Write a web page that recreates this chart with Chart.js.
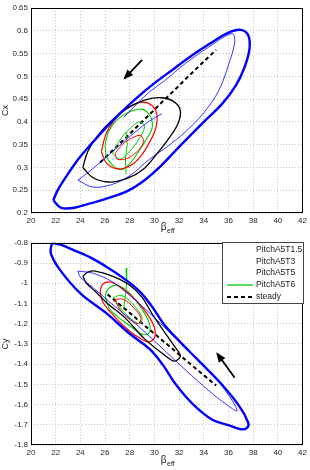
<!DOCTYPE html>
<html><head><meta charset="utf-8">
<script src="https://cdn.jsdelivr.net/npm/chart.js@4/dist/chart.umd.min.js"></script>
<style>
html,body{margin:0;padding:0;background:#fff;}
#wrap{position:relative;width:310px;height:470px;overflow:hidden;}
canvas{position:absolute;left:0;}
#c1{top:0}
#c2{top:235px}
</style></head><body>
<div id="wrap"><canvas id="c1" width="310" height="235"></canvas><canvas id="c2" width="310" height="235"></canvas></div>
<script>
// ---------- DATA ----------
const seriesNames = ['PitchA5T1.5','PitchA5T3','PitchA5T5','PitchA5T6','steady'];
const xTickVals = [20,22,24,26,28,30,32,34,36,38,40,42];
const cxTickVals = [0.2,0.25,0.3,0.35,0.4,0.45,0.5,0.55,0.6,0.65];
const cyTickVals = [-1.8,-1.7,-1.6,-1.5,-1.4,-1.3,-1.2,-1.1,-1,-0.9,-0.8];

// Top panel: Cx vs beta_eff  [beta, Cx]
const cxT15Outer = [[21.8,0.228],[22.4,0.212],[23.4,0.211],[24.8,0.221],[26.3,0.233],[27.8,0.248],[29.2,0.272],[30.4,0.300],[32.0,0.345],[34.0,0.400],[35.5,0.440],[36.6,0.480],[37.3,0.520],[37.7,0.560],[37.6,0.590],[37.0,0.602],[36.0,0.596],[34.5,0.572],[33.0,0.545],[31.5,0.515],[30.0,0.485],[28.5,0.451],[27.0,0.413],[25.5,0.370],[24.0,0.324],[23.0,0.286],[22.2,0.252],[21.8,0.228]];
const cxT15ThinA = [[23.8,0.272],[25.0,0.257],[26.5,0.262],[28.0,0.282],[29.6,0.318],[31.0,0.345],[32.5,0.378],[34.0,0.420],[35.2,0.468],[36.0,0.525],[36.5,0.575],[36.3,0.594],[34.5,0.566],[32.5,0.528],[30.8,0.490],[29.6,0.466],[28.6,0.440],[27.5,0.410]];
const cxT15ThinB = [[23.8,0.272],[25.0,0.297],[26.4,0.330],[28.0,0.368],[29.5,0.400],[30.6,0.418]];
const cxT3 = [[24.2,0.300],[24.6,0.335],[25.4,0.370],[26.5,0.402],[27.8,0.430],[29.2,0.448],[30.6,0.453],[31.6,0.444],[32.1,0.425],[31.9,0.396],[31.2,0.365],[30.2,0.330],[29.1,0.296],[27.8,0.276],[26.3,0.268],[25.0,0.278],[24.2,0.300]];
const cxT5Outer = [[25.7,0.335],[26.1,0.375],[26.8,0.405],[27.8,0.430],[28.9,0.443],[29.8,0.436],[30.2,0.415],[30.1,0.385],[29.6,0.355],[28.9,0.325],[28.1,0.305],[27.0,0.297],[26.1,0.310],[25.7,0.335]];
const cxT5Inner = [[26.8,0.330],[27.4,0.350],[28.2,0.365],[28.9,0.370],[29.1,0.355],[28.6,0.335],[27.8,0.320],[27.0,0.318],[26.8,0.330]];
const cxT6Outer = [[26.0,0.350],[26.3,0.380],[27.0,0.405],[28.0,0.422],[29.0,0.428],[29.7,0.410],[29.8,0.385],[29.3,0.360],[28.6,0.330],[27.9,0.305],[27.3,0.295],[26.6,0.305],[26.1,0.325],[26.0,0.350]];
const cxT6Inner = [[26.6,0.330],[27.2,0.360],[28.0,0.385],[28.8,0.400],[29.2,0.390],[28.8,0.365],[28.0,0.335],[27.2,0.318],[26.6,0.330]];
const cxT6Spike = [[27.7,0.378],[27.8,0.350],[27.65,0.320],[27.7,0.285]];
const cxSteady = [[25.6,0.311],[26.6,0.337],[27.6,0.363],[28.6,0.390],[29.6,0.416],[30.6,0.443],[31.6,0.469],[32.6,0.496],[33.6,0.522],[34.6,0.548],[35.0,0.558]];
const cxArrow = [[29.0,0.536],[27.6,0.496]];

// Bottom panel: Cy vs beta_eff  [beta, Cy]
const cyT15Outer = [[21.7,-0.800],[22.5,-0.812],[23.4,-0.835],[24.8,-0.872],[26.1,-0.918],[27.5,-0.975],[28.8,-1.040],[29.8,-1.115],[30.8,-1.205],[32.0,-1.285],[33.4,-1.372],[35.3,-1.490],[36.9,-1.610],[37.6,-1.690],[37.5,-1.715],[37.0,-1.722],[36.0,-1.702],[34.7,-1.675],[33.5,-1.620],[32.6,-1.565],[31.6,-1.490],[30.7,-1.405],[29.6,-1.325],[28.0,-1.250],[26.1,-1.148],[24.0,-1.050],[22.3,-0.930],[21.6,-0.850],[21.7,-0.800]];
const cyT15Thin = [[23.8,-0.940],[25.0,-0.950],[26.5,-0.990],[28.0,-1.060],[30.0,-1.170],[32.0,-1.290],[34.0,-1.410],[35.5,-1.510],[36.7,-1.630],[35.5,-1.585],[34.0,-1.510],[32.0,-1.400],[30.0,-1.285],[28.0,-1.175],[26.5,-1.100],[25.0,-1.020],[24.0,-0.970],[23.8,-0.940]];
const cyT3 = [[24.2,-0.965],[24.6,-0.945],[25.2,-0.940],[26.6,-0.965],[28.0,-1.010],[29.0,-1.070],[29.8,-1.150],[30.8,-1.240],[31.6,-1.310],[32.1,-1.360],[31.6,-1.385],[30.6,-1.345],[29.2,-1.275],[27.6,-1.170],[26.2,-1.100],[25.2,-1.040],[24.5,-1.000],[24.2,-0.965]];
const cyT5Outer = [[25.6,-1.040],[25.8,-1.005],[26.5,-0.995],[27.5,-1.030],[28.6,-1.090],[29.5,-1.160],[30.0,-1.220],[30.0,-1.270],[29.5,-1.290],[28.5,-1.260],[27.5,-1.210],[26.4,-1.140],[25.8,-1.090],[25.6,-1.040]];
const cyT5Inner = [[26.8,-1.080],[27.5,-1.080],[28.3,-1.120],[28.9,-1.170],[28.7,-1.200],[28.0,-1.180],[27.2,-1.130],[26.8,-1.080]];
const cyT6Outer = [[26.0,-1.060],[26.3,-1.025],[27.0,-1.010],[28.0,-1.050],[29.0,-1.130],[29.6,-1.200],[29.5,-1.250],[28.9,-1.250],[28.0,-1.210],[27.0,-1.165],[26.3,-1.120],[26.0,-1.060]];
const cyT6Inner = [[26.7,-1.070],[27.3,-1.060],[28.2,-1.100],[29.0,-1.170],[28.8,-1.200],[28.0,-1.170],[27.2,-1.120],[26.7,-1.070]];
const cyT6Spike = [[27.7,-0.925],[27.75,-1.000],[27.6,-1.080],[27.5,-1.130]];
const cySteady = [[26.2,-1.055],[27.2,-1.106],[28.2,-1.157],[29.2,-1.209],[30.2,-1.260],[31.2,-1.311],[32.2,-1.363],[33.2,-1.414],[34.2,-1.465],[35.0,-1.506]];
const cyArrow = [[36.5,-1.467],[35.1,-1.349]];

// ---------- STYLE ----------
const seriesColors = ['#0000ff','#000000','#ff0000','#00cc00','#000000'];
const legendShowSample = [false,false,false,true,true];
const FONT = '"Liberation Sans", Arial, sans-serif';

const toPts = a => a.map(p => ({x:p[0], y:p[1]}));
function ds(arr, color, width, opts) {
  return Object.assign({
    data: toPts(arr), borderColor: color, backgroundColor: color, borderWidth: width,
    showLine: true, pointRadius: 0, pointHoverRadius: 0, tension: 0.35, fill: false
  }, opts || {});
}

const boxPlugin = {
  id: 'axbox',
  afterDatasetsDraw(chart) {
    const ctx = chart.ctx, ca = chart.chartArea;
    ctx.save();
    ctx.strokeStyle = '#000'; ctx.lineWidth = 1; ctx.setLineDash([]);
    ctx.strokeRect(Math.round(ca.left)+0.5, Math.round(ca.top)+0.5, Math.round(ca.right-ca.left)-1, Math.round(ca.bottom-ca.top)-1);
    ctx.restore();
  }
};
const arrowPlugin = {
  id: 'arrowhead',
  afterDatasetsDraw(chart) {
    const ctx = chart.ctx;
    chart.data.datasets.forEach((d, i) => {
      if (!d.isArrow) return;
      const meta = chart.getDatasetMeta(i);
      const n = meta.data.length;
      const p1 = meta.data[n-2], p2 = meta.data[n-1];
      const ang = Math.atan2(p2.y - p1.y, p2.x - p1.x);
      const L = 8, W = 4;
      ctx.save();
      ctx.fillStyle = '#000';
      ctx.beginPath();
      ctx.moveTo(p2.x + Math.cos(ang)*2, p2.y + Math.sin(ang)*2);
      ctx.lineTo(p2.x - Math.cos(ang)*L - Math.sin(ang)*W, p2.y - Math.sin(ang)*L + Math.cos(ang)*W);
      ctx.lineTo(p2.x - Math.cos(ang)*L + Math.sin(ang)*W, p2.y - Math.sin(ang)*L - Math.cos(ang)*W);
      ctx.closePath(); ctx.fill();
      ctx.restore();
    });
  }
};
const xLabelPlugin = {
  id: 'xlab',
  afterDraw(chart, args, opts) {
    const ctx = chart.ctx, ca = chart.chartArea;
    const cx = (ca.left + ca.right)/2 - 6;
    const y = ca.bottom + opts.dy;
    ctx.save();
    ctx.fillStyle = '#222';
    ctx.textBaseline = 'alphabetic'; ctx.textAlign = 'left';
    ctx.font = '10px ' + FONT;
    ctx.fillText('β', cx, y);
    const w = ctx.measureText('β').width;
    ctx.font = '7px ' + FONT;
    ctx.fillText('eff', cx + w + 0.5, y + 3);
    ctx.restore();
  }
};
const legendPlugin = {
  id: 'boxLegend',
  afterDraw(chart, args, opts) {
    if (!opts.show) return;
    const ctx = chart.ctx, ca = chart.chartArea;
    const w = 82, h = 62;
    const x0 = Math.round(ca.right) - w + 1, y0 = Math.round(ca.top) - 1;
    ctx.save();
    ctx.fillStyle = '#fff'; ctx.fillRect(x0, y0, w, h);
    ctx.strokeStyle = '#444'; ctx.lineWidth = 1; ctx.strokeRect(x0+0.5, y0+0.5, w-1, h-1);
    ctx.font = '8.5px ' + FONT;
    ctx.textBaseline = 'middle'; ctx.textAlign = 'left';
    seriesNames.forEach((name, i) => {
      const y = y0 + 7.5 + i*11.8;
      if (legendShowSample[i]) {
        ctx.strokeStyle = seriesColors[i];
        ctx.lineWidth = i === 4 ? 2 : 1.3;
        ctx.setLineDash(i === 4 ? [4,3] : []);
        ctx.beginPath(); ctx.moveTo(x0+5, Math.round(y)); ctx.lineTo(x0+31, Math.round(y)); ctx.stroke();
        ctx.setLineDash([]);
      }
      ctx.fillStyle = '#222';
      ctx.fillText(name, x0+34, y);
    });
    ctx.restore();
  }
};

function makeOptions(yTicks, yMin, yMax, yTitle, pad, xHeight, showLegend, labelDy) {
  return {
    responsive: false, animation: false, devicePixelRatio: 1,
    layout: { padding: pad },
    plugins: { legend: { display: false }, tooltip: { enabled: false },
      xlab: { dy: labelDy }, boxLegend: { show: showLegend } },
    scales: {
      x: {
        type: 'linear', min: 20, max: 42,
        afterBuildTicks: s => { s.ticks = xTickVals.map(v => ({value: v})); },
        afterFit: s => { s.height = xHeight; },
        grid: { color: '#c4c4c4', lineWidth: 1, drawTicks: false },
        border: { display: false, dash: [1,2] },
        ticks: { autoSkip: false, maxRotation: 0, padding: 3, color: '#262626', font: { family: FONT, size: 8 }, callback: v => String(v) }
      },
      y: {
        type: 'linear', min: yMin, max: yMax,
        afterBuildTicks: s => { s.ticks = yTicks.map(v => ({value: v})); },
        afterFit: s => { s.width = 31; },
        grid: { color: '#c4c4c4', lineWidth: 1, drawTicks: false },
        border: { display: false, dash: [1,2] },
        title: { display: true, text: yTitle, color: '#222', font: { family: FONT, size: 9 }, padding: { top: 0, bottom: 0 } },
        ticks: { autoSkip: false, padding: 3, color: '#262626', font: { family: FONT, size: 8 }, callback: v => String(v) }
      }
    }
  };
}

const topDatasets = [
  ds(cxT15ThinA, seriesColors[0], 0.8),
  ds(cxT15ThinB, seriesColors[0], 0.8),
  ds(cxT15Outer, seriesColors[0], 2.4, {label: seriesNames[0]}),
  ds(cxT3, seriesColors[1], 1.3, {label: seriesNames[1]}),
  ds(cxT5Outer, seriesColors[2], 1.2, {label: seriesNames[2]}),
  ds(cxT5Inner, seriesColors[2], 1),
  ds(cxT6Outer, seriesColors[3], 1.1, {label: seriesNames[3]}),
  ds(cxT6Inner, seriesColors[3], 1),
  ds(cxT6Spike, seriesColors[3], 1, {tension: 0}),
  ds(cxSteady, seriesColors[4], 2, {label: seriesNames[4], borderDash: [4,3], tension: 0}),
  ds(cxArrow, '#000', 1.8, {tension: 0, isArrow: true})
];
const botDatasets = [
  ds(cyT15Thin, seriesColors[0], 0.8),
  ds(cyT15Outer, seriesColors[0], 2.4, {label: seriesNames[0]}),
  ds(cyT3, seriesColors[1], 1.3, {label: seriesNames[1]}),
  ds(cyT5Outer, seriesColors[2], 1.2, {label: seriesNames[2]}),
  ds(cyT5Inner, seriesColors[2], 1),
  ds(cyT6Outer, seriesColors[3], 1.1, {label: seriesNames[3]}),
  ds(cyT6Inner, seriesColors[3], 1),
  ds(cyT6Spike, seriesColors[3], 1, {tension: 0}),
  ds(cySteady, seriesColors[4], 2, {label: seriesNames[4], borderDash: [4,3], tension: 0}),
  ds(cyArrow, '#000', 1.8, {tension: 0, isArrow: true})
];

const plugins = [boxPlugin, arrowPlugin, xLabelPlugin, legendPlugin];
new Chart(document.getElementById('c1'), {
  type: 'scatter', data: { datasets: topDatasets },
  options: makeOptions(cxTickVals, 0.2, 0.65, 'Cx', {top: 8, right: 7, left: 0, bottom: 0}, 22, false, 17),
  plugins
});
new Chart(document.getElementById('c2'), {
  type: 'scatter', data: { datasets: botDatasets },
  options: makeOptions(cyTickVals, -1.8, -0.8, 'Cy', {top: 6, right: 7, left: 0, bottom: 0}, 25, true, 18),
  plugins
});
</script>
</body></html>
